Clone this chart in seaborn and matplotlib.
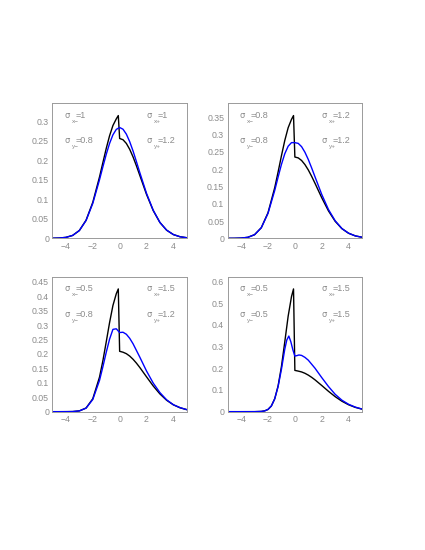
import numpy as np
import seaborn as sns
import matplotlib
matplotlib.use("Agg")
from matplotlib import pyplot as plt
from matplotlib import ticker
from matplotlib.transforms import offset_copy

# sample points
x_black = [-5, -4.5, -4, -3.5, -3, -2.5, -2, -1.5, -1.25, -1, -0.75, -0.5, -0.25, -0.1,
           0, 0.25, 0.5, 0.75, 1, 1.25, 1.5, 2, 2.5, 3, 3.5, 4, 4.5, 5]
x_blue = [-5, -4.5, -4, -3.5, -3, -2.5, -2, -1.5, -1.25, -1, -0.75, -0.5, -0.25,
          0, 0.25, 0.5, 0.75, 1, 1.25, 1.5, 2, 2.5, 3, 3.5, 4, 4.5, 5]

black_1 = [0.0002, 0.0007, 0.0024, 0.0074, 0.0200, 0.0463, 0.0920, 0.1568, 0.1934, 0.2296, 0.2623, 0.2885, 0.3055, 0.3140,
           0.2554, 0.2522, 0.2427, 0.2276, 0.2081, 0.1854, 0.1611, 0.1125, 0.0710, 0.0404, 0.0208, 0.0096, 0.0040, 0.0015]
blue_1 = [0.0002, 0.0007, 0.0024, 0.0074, 0.0198, 0.0455, 0.0893, 0.1496, 0.1826, 0.2145, 0.2427, 0.2647, 0.2786,
          0.2835, 0.2791, 0.2665, 0.2472, 0.2232, 0.1962, 0.1683, 0.1152, 0.0718, 0.0406, 0.0208, 0.0096, 0.0040, 0.0015]

black_2 = [0.0000, 0.0001, 0.0007, 0.0029, 0.0105, 0.0307, 0.0739, 0.1464, 0.1915, 0.2386, 0.2831, 0.3198, 0.3441, 0.3550,
           0.2351, 0.2326, 0.2251, 0.2132, 0.1977, 0.1792, 0.1591, 0.1174, 0.0794, 0.0493, 0.0280, 0.0146, 0.0070, 0.0031]
blue_2 = [0.0000, 0.0001, 0.0007, 0.0029, 0.0105, 0.0305, 0.0722, 0.1384, 0.1768, 0.2136, 0.2447, 0.2663, 0.2768,
          0.2766, 0.2746, 0.2651, 0.2489, 0.2279, 0.2035, 0.1778, 0.1270, 0.0834, 0.0508, 0.0284, 0.0148, 0.0070, 0.0031]

black_3 = [0.0000, 0.0000, 0.0001, 0.0004, 0.0027, 0.0126, 0.0447, 0.1195, 0.1758, 0.2411, 0.3083, 0.3675, 0.4083, 0.4250,
           0.2090, 0.2059, 0.2008, 0.1925, 0.1814, 0.1681, 0.1531, 0.1208, 0.0890, 0.0614, 0.0395, 0.0238, 0.0134, 0.0070]
blue_3 = [0.0000, 0.0000, 0.0001, 0.0004, 0.0027, 0.0122, 0.0422, 0.1080, 0.1550, 0.2050, 0.2510, 0.2850, 0.2870,
          0.2740, 0.2750, 0.2680, 0.2540, 0.2350, 0.2120, 0.1890, 0.1410, 0.0990, 0.0660, 0.0410, 0.0240, 0.0140, 0.0070]

x_black_4 = [-5, -4, -3, -2.5, -2.25, -2, -1.75, -1.5, -1.25, -1, -0.75, -0.5, -0.25, -0.1,
             0, 0.25, 0.5, 0.75, 1, 1.25, 1.5, 2, 2.5, 3, 3.5, 4, 4.5, 5]
black_4 = [0.0000, 0.0000, 0.0001, 0.0011, 0.0036, 0.0103, 0.0264, 0.0595, 0.1182, 0.2076, 0.3215, 0.4394, 0.5300, 0.5650,
           0.1900, 0.1868, 0.1829, 0.1767, 0.1683, 0.1581, 0.1465, 0.1206, 0.0939, 0.0692, 0.0482, 0.0318, 0.0198, 0.0117]
x_blue_4 = [-5, -4, -3, -2.5, -2.25, -2, -1.75, -1.5, -1.25, -1, -0.75, -0.6, -0.45, -0.3, -0.15,
            0, 0.15, 0.3, 0.5, 0.75, 1, 1.5, 2, 2.5, 3, 3.5, 4, 4.5, 5]
blue_4 = [0.0000, 0.0000, 0.0001, 0.0011, 0.0036, 0.0103, 0.0260, 0.0590, 0.1150, 0.1950, 0.2880, 0.3300, 0.3480, 0.3220, 0.2850,
          0.2560, 0.2580, 0.2610, 0.2590, 0.2500, 0.2370, 0.2000, 0.1570, 0.1160, 0.0800, 0.0530, 0.0340, 0.0210, 0.0120]

sig_xm = ["1", "0.8", "0.5", "0.5"]
sig_xp = ["1", "1.2", "1.5", "1.5"]
sig_ym = ["0.8", "0.8", "0.8", "0.5"]
sig_yp = ["1.2", "1.2", "1.2", "1.5"]
y_major = [0.05, 0.05, 0.05, 0.1]

panels = [
    (x_black, black_1, x_blue, blue_1),
    (x_black, black_2, x_blue, blue_2),
    (x_black, black_3, x_blue, blue_3),
    (x_black_4, black_4, x_blue_4, blue_4),
]

sns.set_style("white")
plt.rcParams["font.family"] = ["Liberation Sans", "DejaVu Sans"]

grey = "#8c8c8c"
frame = "#9a9a9a"

fig = plt.figure(figsize=(4.25, 5.5), dpi=100)
lefts = [0.1235, 0.5358]
bottoms = [0.5667, 0.2515]
w, h = 0.316, 0.2455


def sigma_label(ax, xf, yf, sub, val):
    ax.text(xf, yf, "σ", transform=ax.transAxes, fontsize=6, color=grey,
            ha="left", va="center", family=["DejaVu Sans"])
    t_sub = offset_copy(ax.transAxes, fig=fig, x=5.3, y=-4.1, units="points")
    ax.text(xf, yf, sub, transform=t_sub, fontsize=4.6, color=grey, ha="left", va="center")
    t_val = offset_copy(ax.transAxes, fig=fig, x=7.7, y=0, units="points")
    ax.text(xf, yf, "=" + val, transform=t_val, fontsize=6.5, color=grey, ha="left", va="center")


for i, (xb, yb, xl, yl) in enumerate(panels):
    ax = fig.add_axes([lefts[i % 2], bottoms[i // 2], w, h])
    sns.lineplot(x=xb, y=yb, ax=ax, color="black", lw=1.0, sort=False, estimator=None)
    sns.lineplot(x=xl, y=yl, ax=ax, color="#0000ff", lw=1.0, sort=False, estimator=None)
    ax.set_xlim(-5, 5)
    ax.set_ylim(0, 1.1 * max(yb))

    ax.xaxis.set_major_locator(ticker.MultipleLocator(2))
    ax.xaxis.set_minor_locator(ticker.MultipleLocator(0.5))
    ax.yaxis.set_major_locator(ticker.MultipleLocator(y_major[i]))
    ax.yaxis.set_minor_locator(ticker.AutoMinorLocator(5))
    ax.yaxis.set_major_formatter(ticker.FuncFormatter(lambda v, p: f"{v:g}"))
    ax.xaxis.set_major_formatter(ticker.FuncFormatter(lambda v, p: f"{v:g}".replace("-", "\u2212")))
    ax.tick_params(which="both", direction="in", colors=frame, labelcolor=grey,
                   labelsize=6.3, width=0.6, top=False, right=False)
    ax.tick_params(which="major", length=3.2, pad=2.5)
    ax.tick_params(which="minor", length=1.6)
    for sp in ax.spines.values():
        sp.set_color(frame)
        sp.set_linewidth(0.7)
    ax.set_xlabel("")
    ax.set_ylabel("")

    sigma_label(ax, 0.09, 0.911, "x\u2212", sig_xm[i])
    sigma_label(ax, 0.70, 0.911, "x+", sig_xp[i])
    sigma_label(ax, 0.09, 0.721, "y\u2212", sig_ym[i])
    sigma_label(ax, 0.70, 0.721, "y+", sig_yp[i])

fig.savefig("out.png", dpi=100)
